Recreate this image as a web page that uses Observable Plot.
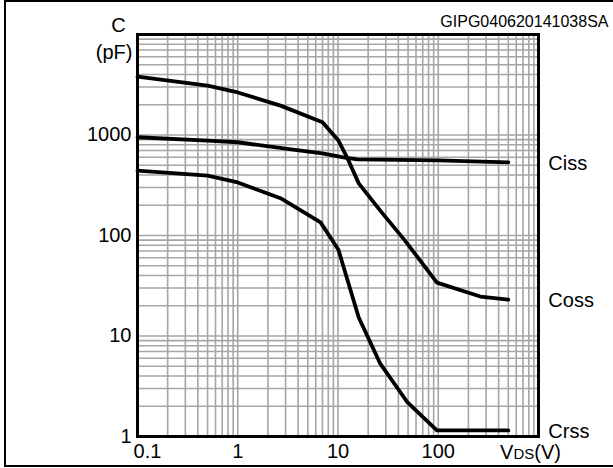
<!DOCTYPE html>
<html>
<head>
<meta charset="utf-8">
<script src="https://cdn.jsdelivr.net/npm/d3@7"></script>
<script src="https://cdn.jsdelivr.net/npm/@observablehq/plot@0.6"></script>
<style>
  html, body { margin: 0; padding: 0; background: #fff; }
  #wrap { position: relative; width: 613px; height: 468px; overflow: hidden; }
  #border { position: absolute; left: 4px; top: 0px; width: 640px; height: 467px; border: 2px solid #000; box-sizing: border-box; pointer-events: none; }
  #chart { position: absolute; left: 0; top: 0; }
</style>
</head>
<body>
<div id="wrap"><div id="chart"></div><div id="border"></div></div>
<script>
// Capacitance vs VDS (log-log)
const cissV = [0.1, 0.5, 1, 3.4, 7, 11.3, 15.6, 100, 500];
const cissC = [950, 880, 847, 718, 655, 600, 572, 560, 535];

const cossV = [0.1, 0.5, 1, 2.67, 7, 10.1, 12.3, 16.1, 26.4, 46.6, 97, 263, 500];
const cossC = [3800, 3100, 2650, 1960, 1340, 880, 600, 330, 177, 89, 34, 24.7, 23];

const crssV = [0.1, 0.5, 1, 2.67, 6.7, 10.1, 16.1, 26.4, 49.4, 97, 500];
const crssC = [443, 395, 337, 235, 135, 72, 15.3, 5.3, 2.18, 1.15, 1.15];

const seriesNames = ["Ciss", "Coss", "Crss"];
const xTickLabels = ["0.1", "1", "10", "100"];
const xTickValues = [0.1, 1, 10, 100];
const yTickValues = [1, 10, 100, 1000];
const xAxisTitle = "VDS(V)";
const yAxisTitle = ["C", "(pF)"];
const codeText = "GIPG040620141038SA";

const toRows = (vs, cs, name) => vs.map((v, i) => ({v, c: cs[i], name}));
const ciss = toRows(cissV, cissC, seriesNames[0]);
const coss = toRows(cossV, cossC, seriesNames[1]);
const crss = toRows(crssV, crssC, seriesNames[2]);
const ends = [ciss, coss, crss].map(s => s[s.length - 1]);

const xGrid = [];
for (const d of [0.1, 1, 10, 100]) for (let k = 1; k <= 9; k++) xGrid.push(+(d * k).toPrecision(3));
xGrid.push(1000);
const yGrid = [];
for (const d of [1, 10, 100, 1000]) for (let k = 1; k <= 9; k++) yGrid.push(d * k);
yGrid.push(10000);

const font = "'Liberation Sans', Arial, Helvetica, sans-serif";
const gridStyle = {stroke: "#a6a6a6", strokeWidth: 1.6, strokeOpacity: 1};
const lineStyle = {x: "v", y: "c", stroke: "#000", strokeWidth: 3.8, strokeLinejoin: "round", strokeLinecap: "round"};

const chart = Plot.plot({
  width: 613,
  height: 468,
  marginLeft: 137,
  marginRight: 75,
  marginTop: 34,
  marginBottom: 32,
  x: {type: "log", domain: [0.1, 1000]},
  y: {type: "log", domain: [1, 10000]},
  style: {fontFamily: font, fontSize: "20px", color: "#000", background: "transparent", overflow: "visible"},
  marks: [
    Plot.ruleX(xGrid, {x: d => d, ...gridStyle}),
    Plot.ruleY(yGrid, {y: d => d, ...gridStyle}),
    Plot.line(ciss, lineStyle),
    Plot.line(coss, lineStyle),
    Plot.line(crss, lineStyle),
    Plot.frame({stroke: "#000", strokeWidth: 3}),
    Plot.axisX(xTickValues.slice(0, 1), {tickSize: 0, tickPadding: 7, dx: 10, label: null, fontSize: 20, tickFormat: (d) => xTickLabels[0]}),
    Plot.axisX(xTickValues.slice(1), {tickSize: 0, tickPadding: 7, label: null, fontSize: 20, tickFormat: (d) => xTickLabels[xTickValues.indexOf(d)]}),
    Plot.axisY(yTickValues, {tickSize: 0, tickPadding: 6, label: null, fontSize: 20, tickFormat: d => String(d)}),
    Plot.text(ends, {x: "v", y: "c", text: "name", dx: 40, dy: 1, textAnchor: "start", fontSize: 20, fill: "#000"}),
    Plot.text([xAxisTitle], {frameAnchor: "bottom-right", textAnchor: "middle", lineAnchor: "middle", dx: -8, dy: 16, fontSize: 20, fill: "#000", className: "vds-title"}),
    Plot.text([yAxisTitle[0]], {frameAnchor: "top-left", textAnchor: "middle", lineAnchor: "middle", dx: -19, dy: -9, fontSize: 20, fill: "#000"}),
    Plot.text([yAxisTitle[1]], {frameAnchor: "top-left", textAnchor: "end", lineAnchor: "middle", dx: -5, dy: 18, fontSize: 20, fill: "#000"}),
    Plot.text([codeText], {frameAnchor: "top-right", textAnchor: "end", lineAnchor: "middle", dx: 70, dy: -13, fontSize: 16, fill: "#000"})
  ]
});
document.getElementById("chart").appendChild(chart);

// Render the "DS" of VDS in a smaller size
d3.select(chart).selectAll("text").each(function() {
  const t = d3.select(this);
  if (t.text() === xAxisTitle) {
    t.text(null);
    t.append("tspan").text("V");
    t.append("tspan").attr("font-size", 15).text("DS");
    t.append("tspan").text("(V)");
  }
});
</script>
</body>
</html>
